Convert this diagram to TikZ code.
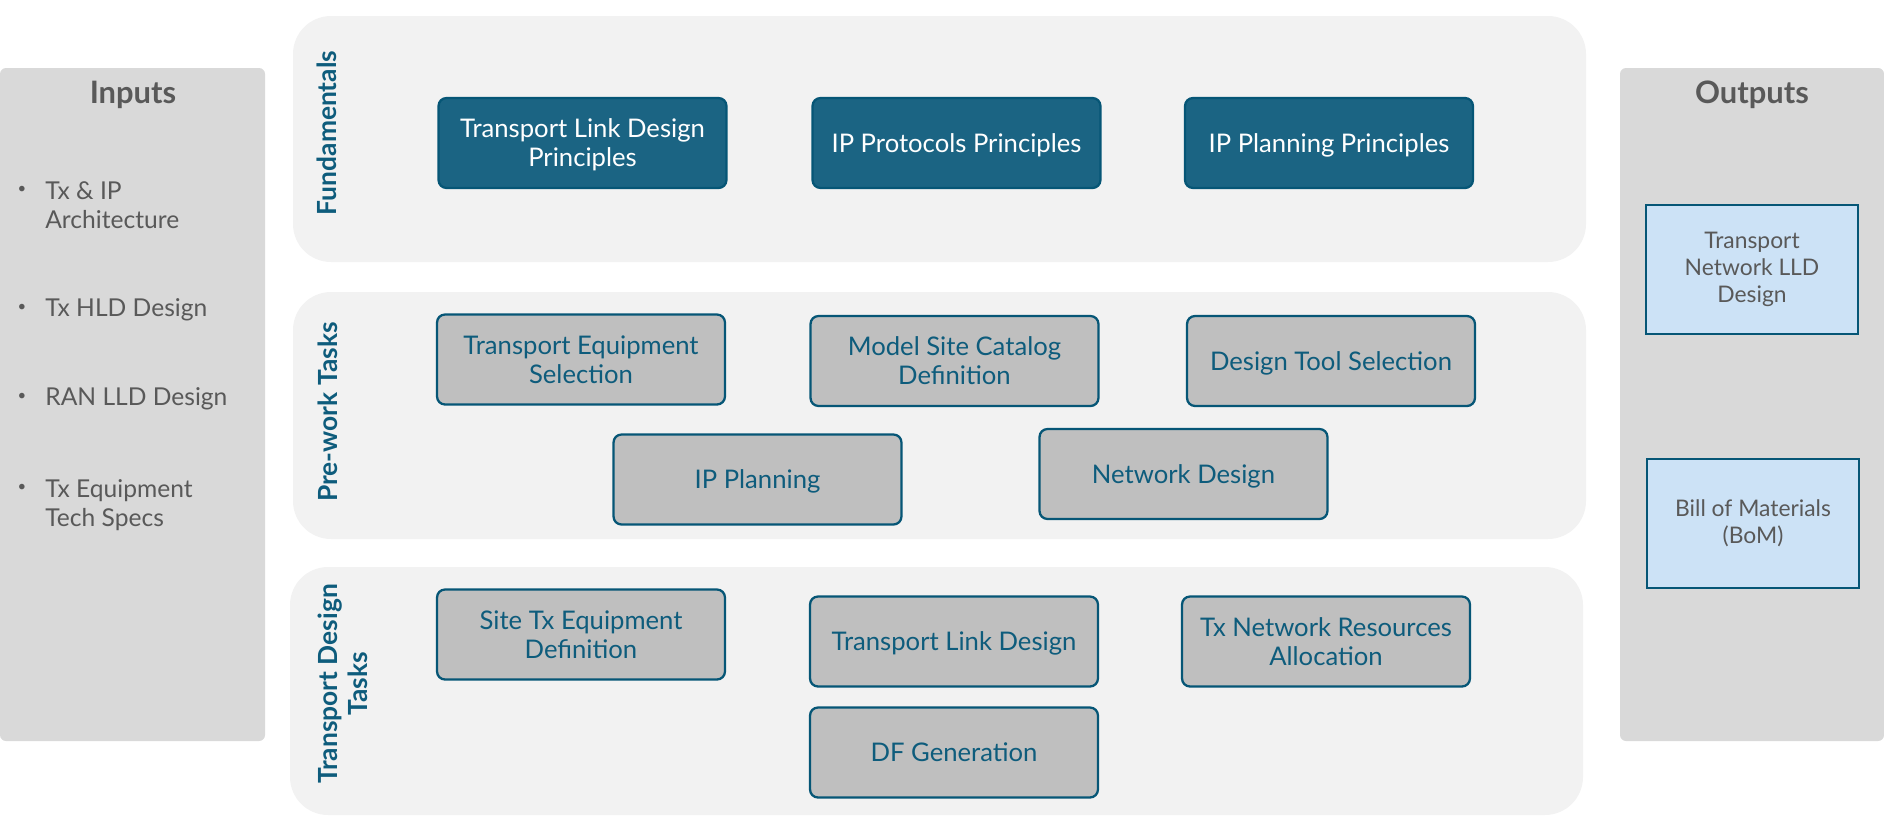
\documentclass[tikz,border=0pt]{standalone}
\usepackage{fontspec}
\setmainfont{Lato}
\definecolor{bandgray}{HTML}{F2F2F2}
\definecolor{panelgray}{HTML}{D9D9D9}
\definecolor{boxgray}{HTML}{BFBFBF}
\definecolor{textgray}{HTML}{595959}
\definecolor{deepblue}{HTML}{1B6483}
\definecolor{edgeblue}{HTML}{065676}
\definecolor{labelblue}{HTML}{0E5C7C}
\definecolor{outblue}{HTML}{CCE2F6}

\begin{document}
\begin{tikzpicture}[x=0.02cm,y=-0.02cm,
    fund/.style={rectangle,draw=edgeblue,line width=1.3pt,rounded corners=0.16cm,
      fill=deepblue,text=white,minimum width=5.76cm,minimum height=1.8cm,
      text depth=0pt,align=center,font=\fontsize{14.6}{16.5}\selectfont},
    task/.style={fund,fill=boxgray,text=labelblue},
    outbox/.style={rectangle,draw=edgeblue,line width=1.6pt,fill=outblue,
      text=textgray,minimum width=4.24cm,minimum height=2.58cm,align=center,
      font=\fontsize{13}{15.4}\selectfont},
    bandname/.style={rotate=90,text=labelblue,align=center,
      font=\bfseries\fontsize{15}{17}\selectfont},
    sidetitle/.style={text=textgray,font=\bfseries\fontsize{17.6}{19}\selectfont},
    bul/.style={text=textgray,font=\fontsize{8.5}{10}\selectfont},
    item/.style={anchor=west,inner sep=0pt,text=textgray,align=left,
      font=\fontsize{14}{16.5}\selectfont}]
  \useasboundingbox (0,0) rectangle (1884,818);

  % side panels and bands
  \fill[panelgray,rounded corners=0.12cm] (0,68) rectangle (265,741);
  \fill[panelgray,rounded corners=0.12cm] (1620,68) rectangle (1884,741);
  \fill[bandgray,rounded corners=0.76cm] (293,16) rectangle (1586,262);
  \fill[bandgray,rounded corners=0.76cm] (293,292) rectangle (1586,539);
  \fill[bandgray,rounded corners=0.76cm] (290,567) rectangle (1583,815);

  % inputs
  \draw (133,95) node[sidetitle] (inputs) {Inputs};
  \draw (22,190) node[bul] (b1) {•};
  \draw (45,205) node[item] (in1) {Tx \& IP\\Architecture};
  \draw (22,308) node[bul] (b2) {•};
  \draw (45,310) node[item] (in2) {Tx HLD Design};
  \draw (22,397) node[bul] (b3) {•};
  \draw (45,399) node[item] (in3) {RAN LLD Design};
  \draw (22,488) node[bul] (b4) {•};
  \draw (45,505) node[item] (in4) {Tx Equipment\\Tech Specs};

  % outputs
  \draw (1752,95) node[sidetitle] (outputs) {Outputs};
  \draw (1752,269.5) node[outbox] (lld) {Transport\\Network LLD\\Design};
  \draw (1753,523.5) node[outbox] (bom) {Bill of Materials\\(BoM)};

  % fundamentals
  \draw (327,133) node[bandname] (fundl) {Fundamentals};
  \draw (582.5,143) node[fund] (tldp) {Transport Link Design\\Principles};
  \draw (956.5,143) node[fund] (ipprot) {IP Protocols Principles};
  \draw (1329,143) node[fund] (ipplan) {IP Planning Principles};

  % pre-work
  \draw (328,412) node[bandname] (prel) {Pre-work Tasks};
  \draw (581,359.5) node[task] (tes) {Transport Equipment\\Selection};
  \draw (954.5,361) node[task] (msc) {Model Site Catalog\\Definition};
  \draw (1331,361) node[task] (dts) {Design Tool Selection};
  \draw (757.5,479.5) node[task] (ipn) {IP Planning};
  \draw (1183.5,474) node[task] (nd) {Network Design};

  % transport design
  \draw (343,684) node[bandname] (tdl) {Transport Design\\Tasks};
  \draw (581,634.5) node[task] (stx) {Site Tx Equipment\\Definition};
  \draw (954,641.5) node[task] (tld) {Transport Link Design};
  \draw (1326,641.5) node[task] (tnr) {Tx Network Resources\\Allocation};
  \draw (954,752.5) node[task] (dfg) {DF Generation};
\end{tikzpicture}
\end{document}
